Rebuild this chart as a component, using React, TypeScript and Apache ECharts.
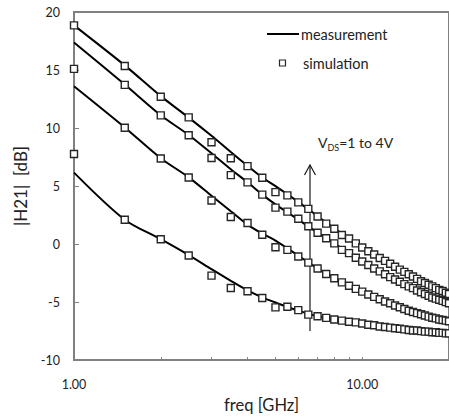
import React, { useEffect, useRef } from 'react';
import * as echarts from 'echarts';

// Simulation frequencies (GHz)
const simFreq = [1, 1.5, 2, 2.5, 3, 3.5, 4, 4.5, 5, 5.5, 6, 6.5, 7, 7.5, 8, 8.5, 9, 9.5, 10, 10.5, 11, 11.5, 12, 12.5, 13, 13.5, 14, 14.5, 15, 15.5, 16, 16.5, 17, 17.5, 18, 18.5, 19, 19.5, 20];
const sim1 = [18.85, 15.35, 12.69, 10.92, 8.77, 7.4, 6.72, 5.71, 4.48, 4.2, 3.59, 3.03, 2.38, 1.76, 1.32, 0.78, 0.48, 0.06, -0.3, -0.62, -0.9, -1.2, -1.45, -1.7, -1.95, -2.2, -2.4, -2.6, -2.8, -3.0, -3.2, -3.35, -3.5, -3.65, -3.8, -3.95, -4.05, -4.2, -4.3];
const sim2 = [null, 13.72, 11.09, 9.38, 7.42, 5.94, 5.32, 4.26, 3.14, 2.8, 2.18, 1.54, 0.98, 0.5, 0.06, -0.5, -0.78, -1.18, -1.5, -1.8, -2.1, -2.35, -2.6, -2.85, -3.05, -3.25, -3.45, -3.65, -3.8, -4.0, -4.15, -4.3, -4.45, -4.6, -4.7, -4.8, -4.9, -5.0, -5.1];
const sim3 = [15.1, 10.03, 7.37, 5.74, 3.76, 2.33, 1.82, 0.8, -0.28, -0.5, -1.07, -1.6, -2.1, -2.58, -2.94, -3.3, -3.59, -3.86, -4.1, -4.35, -4.55, -4.75, -4.95, -5.1, -5.3, -5.45, -5.6, -5.75, -5.85, -5.95, -6.05, -6.15, -6.25, -6.35, -6.4, -6.5, -6.55, -6.6, -6.65];
const sim4 = [7.76, 2.1, 0.42, -0.98, -2.72, -3.78, -4.06, -4.65, -5.46, -5.4, -5.69, -6.08, -6.22, -6.36, -6.5, -6.6, -6.7, -6.75, -6.85, -6.95, -7.0, -7.1, -7.15, -7.2, -7.25, -7.3, -7.35, -7.4, -7.45, -7.45, -7.5, -7.55, -7.55, -7.6, -7.6, -7.65, -7.65, -7.7, -7.7];

// Measurement curves
const measFreq = [1, 1.5, 2, 2.5, 3, 3.5, 4, 4.5, 5, 6, 7, 8, 9, 10, 12, 14, 16, 18, 20];
const meas1 = [18.85, 15.4, 12.75, 10.9, 9.33, 7.93, 6.75, 5.74, 5.0, 3.64, 2.4, 1.35, 0.48, -0.3, -1.45, -2.4, -3.2, -3.8, -4.3];
const meas2 = [17.37, 13.75, 11.1, 9.4, 7.82, 6.44, 5.32, 4.26, 3.42, 2.1, 0.98, 0.06, -0.78, -1.5, -2.6, -3.45, -4.15, -4.7, -5.1];
const meas3 = [13.6, 10.05, 7.4, 5.75, 4.17, 2.83, 1.68, 0.9, 0.3, -1.0, -2.1, -2.95, -3.6, -4.1, -4.95, -5.6, -6.05, -6.4, -6.65];
const meas4 = [6.16, 2.1, 0.42, -0.95, -2.16, -3.17, -4.0, -4.6, -5.04, -5.74, -6.22, -6.5, -6.7, -6.85, -7.15, -7.35, -7.5, -7.6, -7.7];

const xLabelValues = [1, 10];
const xTickValues = [2, 3, 4, 5, 6, 7, 8, 9, 10, 20];

const FONT = 'Lato, "Noto Sans", sans-serif';
const AXIS_GRAY = '#808080';

function zip(xs: number[], ys: (number | null)[]) {
  const out: number[][] = [];
  xs.forEach((x, i) => {
    const y = ys[i];
    if (y !== null && y !== undefined) out.push([x, y]);
  });
  return out;
}

export default function App() {
  const ref = useRef<HTMLDivElement>(null);
  useEffect(() => {
    document.body.style.margin = '0';
    const chart = echarts.init(ref.current!, null, { renderer: 'svg' });
    const measSeries = [meas1, meas2, meas3, meas4].map((m) => ({
      type: 'line',
      name: 'measurement',
      data: zip(measFreq, m),
      symbol: 'none',
      smooth: 0.3,
      lineStyle: { color: '#000', width: 2 },
      z: 2,
    }));
    const simSeries = [sim1, sim2, sim3, sim4].map((s) => ({
      type: 'scatter',
      name: 'simulation',
      data: zip(simFreq, s),
      symbol: 'rect',
      symbolSize: 7,
      itemStyle: { color: '#fff', borderColor: '#262626', borderWidth: 1.4, opacity: 1 },
      z: 3,
    }));
    chart.setOption({
      animation: false,
      backgroundColor: '#fff',
      grid: {
        left: 74,
        top: 12,
        width: 377,
        height: 357,
        show: true,
        borderColor: AXIS_GRAY,
        borderWidth: 2,
        backgroundColor: 'transparent',
      },
      xAxis: {
        type: 'log',
        logBase: 10,
        min: 1,
        max: 20,
        name: 'freq [GHz]',
        nameLocation: 'middle',
        nameGap: 26,
        nameTextStyle: { fontFamily: FONT, fontSize: 16.5, color: '#222' },
        axisLine: { show: true, onZero: false, lineStyle: { color: AXIS_GRAY, width: 2 } },
        axisTick: { show: true, inside: true, length: 3, customValues: xTickValues, lineStyle: { color: AXIS_GRAY, width: 1 } },
        axisLabel: {
          customValues: xLabelValues,
          formatter: (v: number) => Number(v).toFixed(2),
          fontFamily: FONT,
          fontSize: 12.5,
          color: '#222',
          margin: 18,
        },
        splitLine: { show: false },
        minorTick: { show: false },
      },
      yAxis: {
        type: 'value',
        min: -10,
        max: 20,
        interval: 5,
        name: '|H21|  [dB]',
        nameLocation: 'middle',
        nameGap: 45,
        nameTextStyle: { fontFamily: FONT, fontSize: 17, color: '#222' },
        axisLine: { show: true, onZero: false, lineStyle: { color: AXIS_GRAY, width: 2 } },
        axisTick: { show: true, inside: true, length: 5, lineStyle: { color: AXIS_GRAY, width: 1 } },
        axisLabel: { fontFamily: FONT, fontSize: 12.5, color: '#222', margin: 14 },
        splitLine: { show: false },
      },
      series: [...measSeries, ...simSeries],
      graphic: [
        { type: 'line', shape: { x1: 267, y1: 34, x2: 299, y2: 34 }, style: { stroke: '#000', lineWidth: 2 } },
        { type: 'text', x: 301, y: 34, style: { text: 'measurement', font: `14.5px ${FONT}`, fill: '#222', verticalAlign: 'middle' } },
        { type: 'rect', shape: { x: 279.5, y: 60, width: 6, height: 6 }, style: { fill: '#fff', stroke: '#262626', lineWidth: 1.2 } },
        { type: 'text', x: 303, y: 63, style: { text: 'simulation', font: `14.5px ${FONT}`, fill: '#222', verticalAlign: 'middle' } },
        { type: 'line', shape: { x1: 310, y1: 331, x2: 310, y2: 165 }, style: { stroke: '#1a1a1a', lineWidth: 1.2 } },
        { type: 'polyline', shape: { points: [[304.5, 175], [310, 165], [315.5, 175]] }, style: { stroke: '#1a1a1a', lineWidth: 1.2, fill: 'none' } },
        {
          type: 'text',
          x: 318,
          y: 132,
          style: {
            text: '{a|V}{b|DS}{a|=1 to 4V}',
            fill: '#222',
            rich: {
              a: { fontFamily: FONT, fontSize: 14, lineHeight: 20, verticalAlign: 'middle', fill: '#222' },
              b: { fontFamily: FONT, fontSize: 9, lineHeight: 20, verticalAlign: 'bottom', fill: '#222' },
            },
          },
        },
      ],
    });
    return () => chart.dispose();
  }, []);
  return <div ref={ref} style={{ width: 449, height: 418 }} />;
}
